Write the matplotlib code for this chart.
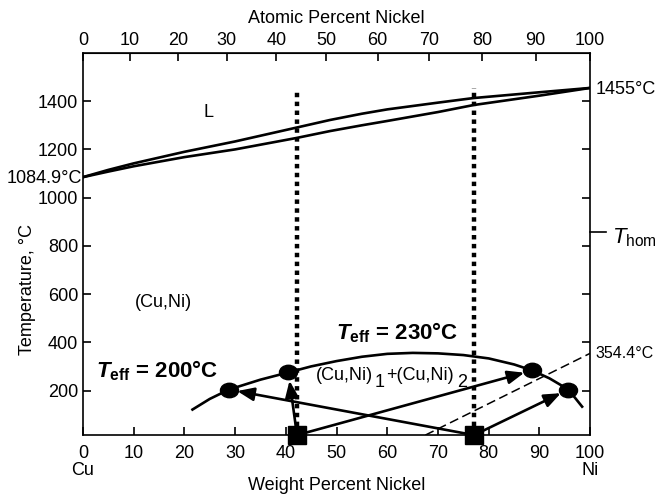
import numpy as np
import matplotlib
matplotlib.use('Agg')
import matplotlib.pyplot as plt
from matplotlib.path import Path
from matplotlib.transforms import Affine2D

plt.rcParams['font.family'] = ['Liberation Sans', 'DejaVu Sans']
plt.rcParams['mathtext.fontset'] = 'custom'
plt.rcParams['mathtext.rm'] = 'Liberation Sans'
plt.rcParams['mathtext.it'] = 'Liberation Sans:italic'
plt.rcParams['mathtext.bf'] = 'Liberation Sans:bold'
plt.rcParams['mathtext.bfit'] = 'Liberation Sans:italic:bold'

# liquidus / solidus (wt% Ni, deg C)
liq_w = [0, 5, 10, 20, 30, 42, 48.7, 55, 60, 70, 77, 90, 100]
liq_t = [1084.9, 1115, 1142, 1190, 1233, 1290, 1322, 1348, 1366, 1394, 1413, 1437, 1455]
sol_w = [0, 5, 10, 20, 30, 42, 48.7, 55, 60, 70, 77, 90, 100]
sol_t = [1084.9, 1108, 1130, 1168, 1200, 1247, 1276, 1300, 1318, 1355, 1384, 1423, 1455]

# miscibility gap
gap_w = [21.6, 25, 28.8, 35, 40.5, 45, 50, 55, 60, 65, 70, 75, 80, 85, 88.6, 92, 95.7, 98.4]
gap_t = [121, 165, 204, 245, 275, 300, 322, 340, 352, 356, 354, 347, 333, 308, 283, 250, 204, 133]

# alloys (squares) and phase compositions (circles)
alloy_w = [42.2, 77.1]
phase_w = [28.8, 40.5, 88.6, 95.7]
phase_t = [204, 275, 283, 204]
# arrows: (alloy index, phase index)
arrows = [(0, 1), (0, 2), (1, 0), (1, 3)]

dotted_top = [1437, 1455]
spin_w = [67.5, 100]
spin_t = 354.4
t_hom = 857

ymin, ymax = 15, 1600

fig = plt.figure(figsize=(6.58, 4.95), dpi=100)
ax = fig.add_axes([0.126, 0.121, 0.771, 0.772])
ax.set_xlim(0, 100)
ax.set_ylim(ymin, ymax)

ax.plot(liq_w, liq_t, color='black', lw=1.9)
ax.plot(sol_w, sol_t, color='black', lw=1.9)
ax.plot(gap_w, gap_t, color='black', lw=1.9)

for w, top in zip(alloy_w, dotted_top):
    ax.plot([w, w], [ymin, top], color='black', lw=3.2, linestyle=(0, (1, 1)))

ax.plot(spin_w, [ymin, spin_t], color='black', lw=1.1, dashes=(6, 3))

for ia, ip in arrows:
    ax.annotate('', xy=(phase_w[ip], phase_t[ip]), xytext=(alloy_w[ia], ymin),
                arrowprops=dict(arrowstyle='-|>,head_length=1.0,head_width=0.4',
                                color='black', lw=1.9, shrinkA=0, shrinkB=6),
                annotation_clip=False)

ellipse = Path.unit_circle().transformed(Affine2D().scale(1.25, 1.0))
ax.plot(phase_w, phase_t, linestyle='none', marker=ellipse, color='black',
        markersize=13, clip_on=False, zorder=5)
ax.plot(alloy_w, [ymin] * len(alloy_w), 's', color='black', markersize=13.5,
        clip_on=False, zorder=5)

fs = 13
ax.set_xticks(np.arange(0, 101, 10))
ax.set_yticks([200, 400, 600, 800, 1000, 1200, 1400])
ax.tick_params(direction='in', length=6, width=1.2, labelsize=fs, right=True)
ax.tick_params(axis='x', pad=7)
for s in ax.spines.values():
    s.set_linewidth(1.2)

ax.set_xlabel('Weight Percent Nickel', fontsize=fs)
ax.xaxis.set_label_coords(0.5, -0.11)
ax.set_ylabel('Temperature, °C', fontsize=fs)
ax.yaxis.set_label_coords(-0.093, 0.38)


def w2a(w):
    w = np.asarray(w, dtype=float)
    n = w / 58.69
    c = (100 - w) / 63.546
    return 100 * n / (n + c)


def a2w(a):
    a = np.asarray(a, dtype=float)
    n = a * 58.69
    c = (100 - a) * 63.546
    return 100 * n / (n + c)


sec = ax.secondary_xaxis('top', functions=(w2a, a2w))
sec.set_xticks(np.arange(0, 101, 10))
sec.tick_params(direction='in', length=6, width=1.2, labelsize=fs, pad=3)
sec.set_xlabel('Atomic Percent Nickel', fontsize=fs, labelpad=6)

ax.text(0, -0.093, 'Cu', transform=ax.transAxes, ha='center', va='center', fontsize=fs)
ax.text(1, -0.093, 'Ni', transform=ax.transAxes, ha='center', va='center', fontsize=fs)

ax.text(-0.001, 1080, '1084.9°C', transform=ax.get_yaxis_transform(),
        ha='right', va='center', fontsize=fs)
ax.text(1.01, 1450, '1455°C', transform=ax.get_yaxis_transform(),
        ha='left', va='center', fontsize=fs)
ax.text(1.01, 352, '354.4°C', transform=ax.get_yaxis_transform(),
        ha='left', va='center', fontsize=11.5)
ax.plot([1.0, 1.032], [t_hom, t_hom], color='black', lw=1.2,
        transform=ax.get_yaxis_transform(), clip_on=False)
ax.text(1.043, t_hom - 25, r'$T_{\mathrm{hom}}$', transform=ax.get_yaxis_transform(),
        ha='left', va='center', fontsize=fs + 3)

ax.text(24.7, 1354, 'L', ha='center', va='center', fontsize=fs)
ax.text(15.8, 563, '(Cu,Ni)', ha='center', va='center', fontsize=fs)

# two-phase label with full-size lowered subscripts
ax.text(45.9, 262, '(Cu,Ni)', ha='left', va='center', fontsize=fs)
ax.text(58.4, 234, '1', ha='center', va='center', fontsize=fs)
ax.text(59.8, 262, '+(Cu,Ni)', ha='left', va='center', fontsize=fs)
ax.text(74.8, 234, '2', ha='center', va='center', fontsize=fs)

ax.text(2.5, 283, r'$\mathbfit{T}_{\mathbf{eff}}$ = 200°C', ha='left', va='center',
        fontsize=16, fontweight='bold')
ax.text(49.8, 440, r'$\mathbfit{T}_{\mathbf{eff}}$ = 230°C', ha='left', va='center',
        fontsize=16, fontweight='bold')

fig.savefig('out.png', dpi=100)
